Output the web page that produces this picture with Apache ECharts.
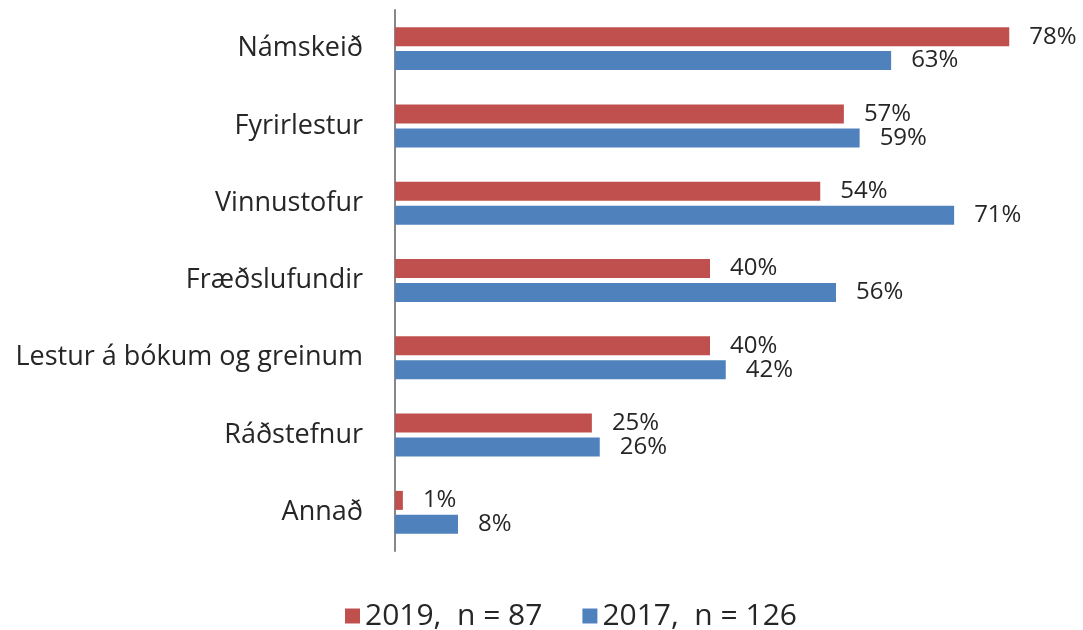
<!DOCTYPE html>
<html>
<head>
<meta charset="utf-8">
<script src="https://cdn.jsdelivr.net/npm/echarts@6/dist/echarts.min.js"></script>
<style>
html, body { margin: 0; padding: 0; background: #fff; }
#chart { width: 1083px; height: 630px; }
</style>
</head>
<body>
<div id="chart"></div>
<script>
// flokkar, efst til neðst
let categories = ["Námskeið", "Fyrirlestur", "Vinnustofur", "Fræðslufundir", "Lestur á bókum og greinum", "Ráðstefnur", "Annað"];
let values2019 = [78, 57, 54, 40, 40, 25, 1];
let values2017 = [63, 59, 71, 56, 42, 26, 8];
let seriesNames = ["2019,  n = 87", "2017,  n = 126"];

let chart = echarts.init(document.getElementById("chart"));
let font = "Open Sans";

let labelOpt = {
	show: true,
	position: "right",
	distance: 20,
	formatter: "{c}%",
	color: "#262626",
	fontFamily: font,
	fontSize: 24
};

chart.setOption({
	animation: false,
	grid: {
		left: 395,
		top: 10,
		width: 630,
		height: 541
	},
	legend: {
		data: seriesNames,
		left: 340,
		top: 596,
		itemWidth: 15,
		itemHeight: 15,
		itemGap: 40,
		icon: "rect",
		textStyle: { fontFamily: font, fontSize: 30, color: "#262626" }
	},
	xAxis: {
		type: "value",
		min: 0,
		max: 80,
		show: false
	},
	yAxis: {
		type: "category",
		data: categories,
		inverse: true,
		axisLine: { lineStyle: { color: "#878787", width: 2 } },
		axisTick: { show: false },
		axisLabel: {
			color: "#262626",
			fontFamily: font,
			fontSize: 27,
			margin: 32
		}
	},
	series: [
		{
			name: seriesNames[0],
			type: "bar",
			data: values2019,
			barWidth: 19,
			barGap: "26%",
			itemStyle: { color: "#C0504D" },
			label: labelOpt
		},
		{
			name: seriesNames[1],
			type: "bar",
			data: values2017,
			barWidth: 19,
			barGap: "26%",
			itemStyle: { color: "#4F81BD" },
			label: labelOpt
		}
	]
});
</script>
</body>
</html>
